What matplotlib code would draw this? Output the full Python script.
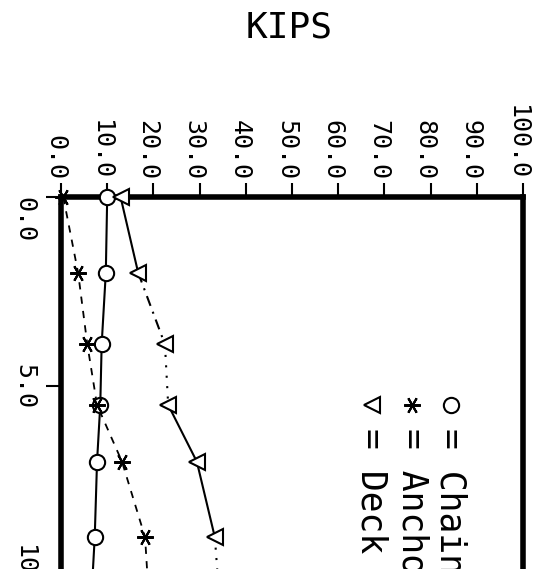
import numpy as np
import matplotlib
matplotlib.use("Agg")
import matplotlib.pyplot as plt
import matplotlib.transforms as mtransforms

plt.rcParams['font.family'] = ['DejaVu Sans Mono', 'DejaVu Sans']

# distance (runs downward in the rotated plot) and forces in kips
position    = [0.0, 2.0, 3.9, 5.5, 7.0, 9.0, 11.0]
chain_kips  = [10.0, 9.7, 8.8, 8.5, 7.8, 7.3, 6.4]
anchor_kips = [0.5, 3.7, 5.7, 7.8, 13.2, 18.2, 19.2]
deck_kips   = [12.9, 16.7, 22.5, 23.2, 29.4, 33.3, 34.5]

kips_ticks = np.arange(0, 101, 10)
pos_ticks  = [0.0, 5.0, 10.0]
legend_labels = ["Chain", "Anchor", "Deck"]

fig = plt.figure(figsize=(5.48, 5.69), dpi=100)
ax = fig.add_axes([61 / 548, -0.1434, 462 / 548, 0.797])
ax.set_xlim(0, 100)
ax.set_ylim(12, 0)

ax.xaxis.tick_top()
ax.spines['bottom'].set_visible(False)
for s in ['top', 'left', 'right']:
    ax.spines[s].set_linewidth(4)

ax.set_xticks(kips_ticks)
ax.set_xticklabels([f"{v:.1f}" for v in kips_ticks])
ax.set_yticks(pos_ticks)
ax.set_yticklabels([f"{v:.1f}" for v in pos_ticks])
ax.tick_params(axis='x', direction='out', length=10, width=1.5, pad=2,
               labelsize=18, labelrotation=-90)
ax.tick_params(axis='y', direction='out', length=11, width=1.5, pad=7,
               labelsize=18, labelrotation=-90)

shift = mtransforms.ScaledTranslation(-6 / 100, 0, fig.dpi_scale_trans)
for lab in ax.get_xticklabels():
    lab.set_transform(lab.get_transform() + shift)
for i, lab in enumerate(ax.get_yticklabels()):
    lab.set_va('top' if i == 0 else 'center')

mk = dict(markersize=11, markerfacecolor='white', markeredgecolor='black',
          markeredgewidth=1.5, clip_on=False, zorder=5)
star = (6, 2, 90)

# chain: solid line with circles
ax.plot(chain_kips, position, color='black', lw=1.5, zorder=3)
ax.plot(chain_kips[:-1], position[:-1], ls='none', marker='o', **mk)

# anchor: dashed line with asterisks
ax.plot(anchor_kips, position, color='black', lw=1.3, ls=(0, (4, 4)), zorder=3)
ax.plot(anchor_kips[:-1], position[:-1], ls='none', marker=star, color='black',
        markersize=12, markeredgewidth=1.5, clip_on=False, zorder=5)

# deck: segments alternate between solid, dash-dot and dotted
deck_styles = ['-', (0, (5, 3, 1, 3)), (0, (1, 4)), '-', '-', (0, (1, 4))]
for i, st in enumerate(deck_styles):
    ax.plot(deck_kips[i:i + 2], position[i:i + 2], color='black', lw=1.5,
            ls=st, zorder=3)
ax.plot(deck_kips[:-1], position[:-1], ls='none', marker='<', **mk)

# legend drawn as rotated text like the plotter output
leg_x = [0.844, 0.760, 0.673]
leg_markers = ['o', star, '<']
for lx, m, lab in zip(leg_x, leg_markers, legend_labels):
    if m == star:
        ax.plot([lx], [0.5415], transform=ax.transAxes, marker=m, color='black',
                markersize=12, markeredgewidth=1.5, ls='none')
    else:
        ax.plot([lx], [0.5415], transform=ax.transAxes, ls='none', marker=m,
                markersize=11, markerfacecolor='white', markeredgecolor='black',
                markeredgewidth=1.5)
    ax.text(lx, 0.4907, "= " + lab, transform=ax.transAxes, rotation=-90,
            ha='center', va='top', fontsize=25)

fig.text(289 / 548, 1 - 27 / 569, "KIPS", ha='center', va='center', fontsize=26)

fig.savefig("out.png", dpi=100)
